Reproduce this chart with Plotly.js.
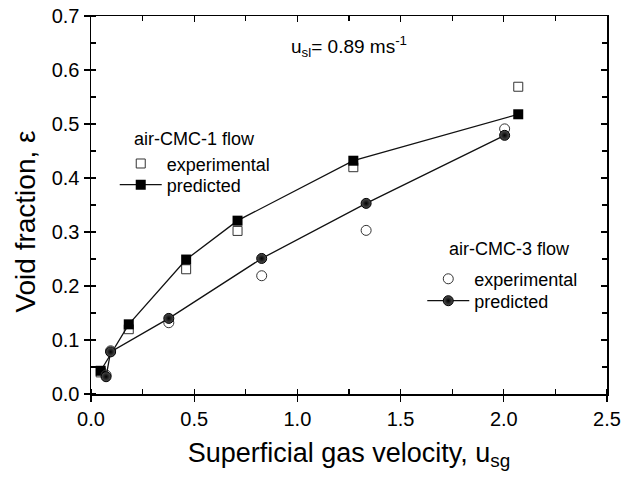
<!DOCTYPE html>
<html>
<head>
<meta charset="utf-8">
<script src="https://cdn.plot.ly/plotly-3.0.1.min.js"></script>
<style>
html,body{margin:0;padding:0;background:#fff;}
#chart{width:621px;height:479px;}
</style>
</head>
<body>
<div id="chart"></div>
<script>
// ---- data ----
const cmc1X = [0.047, 0.183, 0.461, 0.710, 1.271, 2.070];
const cmc1Exp = [0.040, 0.120, 0.231, 0.302, 0.420, 0.569];
const cmc1Pred = [0.043, 0.129, 0.249, 0.321, 0.432, 0.518];

const cmc3X = [0.073, 0.095, 0.377, 0.827, 1.333, 2.004];
const cmc3Exp = [0.035, 0.080, 0.132, 0.219, 0.303, 0.491];
const cmc3Pred = [0.032, 0.078, 0.140, 0.251, 0.353, 0.479];

const xTickVals = [0, 0.5, 1.0, 1.5, 2.0, 2.5];
const yTickVals = [0, 0.1, 0.2, 0.3, 0.4, 0.5, 0.6, 0.7];

const FONT = '"Liberation Sans", Arial, sans-serif';
const LEG_FONT = {family: FONT, size: 18, color: '#000'};

const traces = [
  {
    x: cmc1X, y: cmc1Exp, mode: 'markers', name: 'experimental',
    legend: 'legend', showlegend: true,
    marker: {symbol: 'square-open', size: 9, color: '#333', line: {width: 1, color: '#333'}}
  },
  {
    x: cmc1X, y: cmc1Pred, mode: 'lines+markers', name: 'predicted',
    legend: 'legend2', showlegend: true,
    line: {color: '#111', width: 1.3},
    marker: {symbol: 'square', size: 10, color: '#000'}
  },
  {
    x: cmc3X, y: cmc3Exp, mode: 'markers', name: 'experimental',
    legend: 'legend3', showlegend: true,
    marker: {symbol: 'circle-open', size: 10, color: '#333', line: {width: 1, color: '#333'}}
  },
  {
    x: cmc3X, y: cmc3Pred, mode: 'lines+markers', name: 'predicted',
    legend: 'legend4', showlegend: true,
    line: {color: '#111', width: 1.3},
    marker: {symbol: 'circle', size: 10, color: '#505050',
             gradient: {type: 'radial', color: '#000'},
             line: {width: 1, color: '#000'}}
  }
];

const minorX = {ticks: 'inside', ticklen: 5, tickwidth: 1.2, tickcolor: '#000', dtick: 0.25, tick0: 0};
const minorY = {ticks: 'inside', ticklen: 5, tickwidth: 1.2, tickcolor: '#000', dtick: 0.05, tick0: 0};

const axisCommon = {
  showgrid: false, zeroline: false,
  showline: true, linecolor: '#000', linewidth: 1.5,
  ticks: 'outside', ticklen: 6, tickwidth: 1.3, tickcolor: '#000',
  tickfont: {family: FONT, size: 20, color: '#000'}
};

function leg(x, y) {
  return {
    x: x, y: y, xanchor: 'left', yanchor: 'middle', visible: true,
    bgcolor: 'rgba(0,0,0,0)', borderwidth: 0,
    font: LEG_FONT, itemwidth: 42, itemsizing: 'trace',
    tracegroupgap: 0
  };
}

const layout = {
  width: 621, height: 479,
  showlegend: true,
  margin: {l: 91, r: 14, t: 16, b: 85},
  paper_bgcolor: '#fff', plot_bgcolor: '#fff',
  font: {family: FONT, color: '#000'},
  xaxis: Object.assign({}, axisCommon, {
    range: [0, 2.5], tickvals: xTickVals, tickformat: '.1f', minor: minorX,
    title: {text: 'Superficial gas velocity, u<sub>sg</sub>', font: {family: FONT, size: 27, color: '#000'}, standoff: 14}
  }),
  yaxis: Object.assign({}, axisCommon, {
    range: [0, 0.7], tickvals: yTickVals, tickformat: '.1f', minor: minorY,
    title: {text: ''}
  }),
  xaxis2: {
    overlaying: 'x', side: 'top', range: [0, 2.5], matches: 'x',
    showgrid: false, zeroline: false, showline: true, linecolor: '#000', linewidth: 1.5,
    tickvals: xTickVals, showticklabels: false,
    ticks: 'inside', ticklen: 6, tickwidth: 1.3, tickcolor: '#000', minor: minorX
  },
  yaxis2: {
    overlaying: 'y', side: 'right', range: [0, 0.7],
    showgrid: false, zeroline: false, showline: true, linecolor: '#000', linewidth: 1.5,
    tickvals: yTickVals, showticklabels: false,
    ticks: 'inside', ticklen: 6, tickwidth: 1.3, tickcolor: '#000', minor: minorY
  },
  legend: leg(0.046, 0.609),
  legend2: leg(0.046, 0.553),
  legend3: leg(0.642, 0.304),
  legend4: leg(0.642, 0.246),
  annotations: [
    {
      xref: 'paper', yref: 'paper', x: -0.126, y: 0.456, xanchor: 'center', yanchor: 'middle',
      text: 'Void fraction, ε', textangle: -90, showarrow: false,
      font: {family: FONT, size: 28, color: '#000'}
    },
    {
      xref: 'paper', yref: 'paper', x: 0.383, y: 0.918, xanchor: 'left', yanchor: 'middle',
      text: 'u<sub>sl</sub>= 0.89 ms<sup>-1</sup>', showarrow: false,
      font: {family: FONT, size: 19, color: '#000'}
    },
    {
      xref: 'paper', yref: 'paper', x: 0.080, y: 0.675, xanchor: 'left', yanchor: 'middle',
      text: 'air-CMC-1 flow', showarrow: false, font: LEG_FONT
    },
    {
      xref: 'paper', yref: 'paper', x: 0.690, y: 0.384, xanchor: 'left', yanchor: 'middle',
      text: 'air-CMC-3 flow', showarrow: false, font: LEG_FONT
    }
  ]
};

// empty trace to activate the mirrored top/right axes
traces.push({x: [], y: [], xaxis: 'x2', yaxis: 'y2', showlegend: false, hoverinfo: 'skip'});

Plotly.newPlot('chart', traces, layout, {displayModeBar: false, staticPlot: true});
</script>
</body>
</html>
